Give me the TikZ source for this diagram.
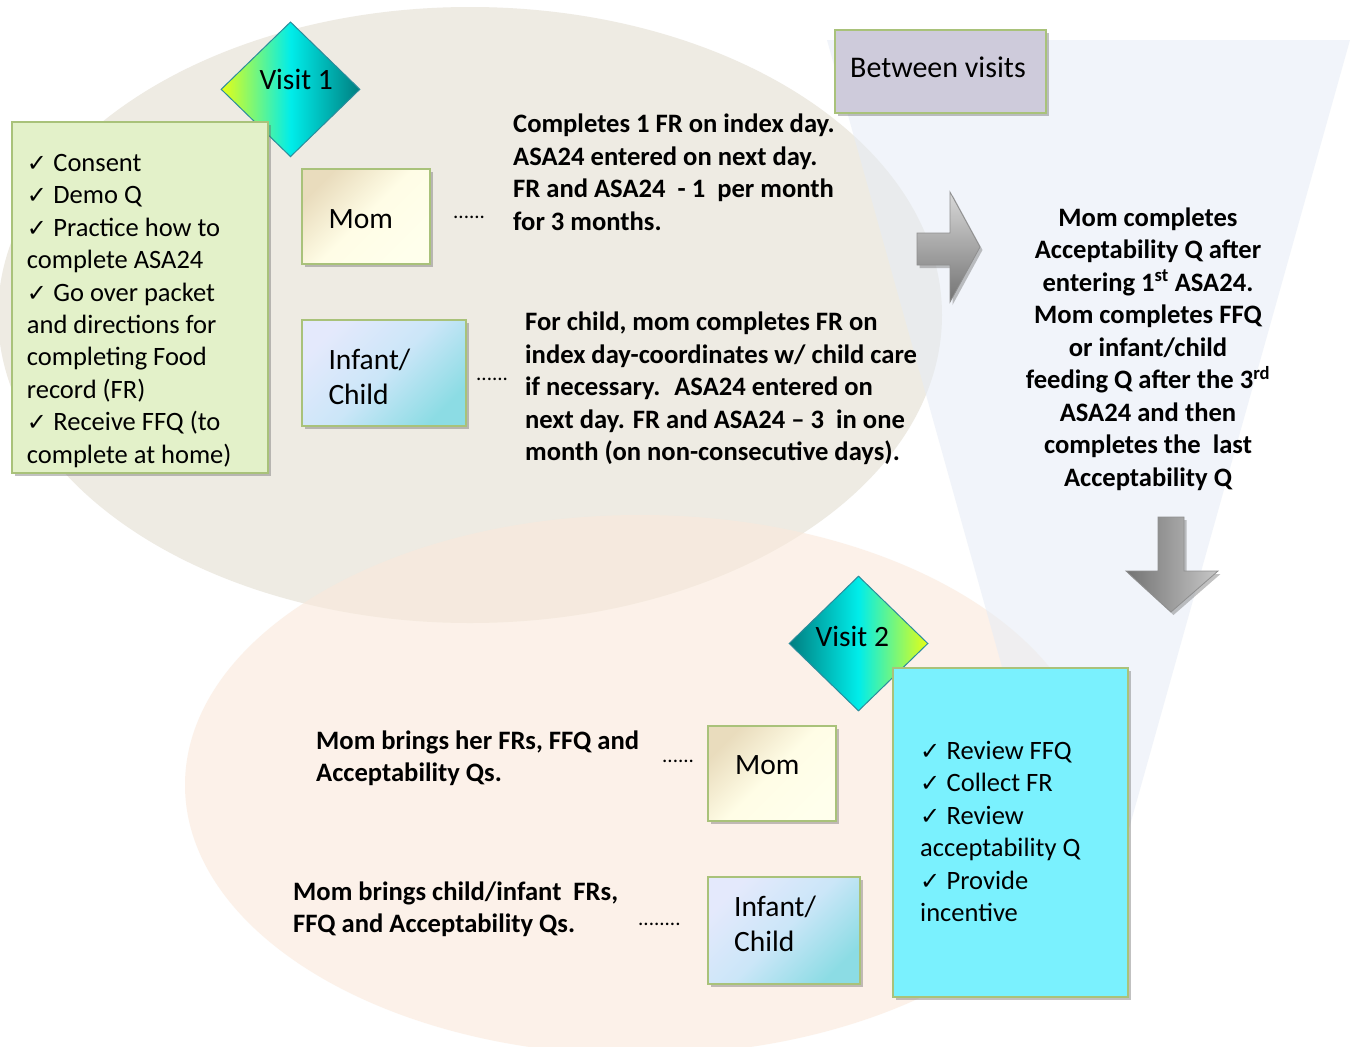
\documentclass[tikz,border=0pt]{standalone}
\usepackage{fontspec}
\setmainfont{Carlito}
\newfontfamily\djv{DejaVu Sans}
\usetikzlibrary{shapes.geometric,shadows}
\definecolor{ellA}{HTML}{EEEBE3}
\definecolor{ellB}{HTML}{FAE9DB}
\definecolor{funnelc}{HTML}{E6ECF6}
\definecolor{boxline}{HTML}{A9C27A}
\definecolor{greenfill}{HTML}{E3F1C9}
\definecolor{cyanfill}{HTML}{7AF1FE}
\definecolor{betweenfill}{HTML}{CECBDB}
\definecolor{momA}{HTML}{E9DCBD}
\definecolor{momB}{HTML}{FFFDE6}
\definecolor{momC}{HTML}{FFFFEC}
\definecolor{kidA}{HTML}{E4E9FC}
\definecolor{kidB}{HTML}{CBE6F8}
\definecolor{kidC}{HTML}{8CDCE4}
\definecolor{yel}{HTML}{E6FF14}
\definecolor{cyn}{HTML}{00EDEA}
\definecolor{tea}{HTML}{007E80}
\definecolor{diaedge}{HTML}{2B8C9C}
\definecolor{arrline}{HTML}{8F8F8F}
\newcommand{\ck}{\makebox[26.5pt][l]{\djv\fontsize{24}{24}\selectfont ✓}}
\begin{document}
\begin{tikzpicture}[x=1pt,y=-1pt,
  shd/.style={drop shadow={shadow xshift=2.5pt,shadow yshift=-3pt,opacity=.4,fill=black!60}},
  bx/.style={draw=boxline,line width=1.4pt,inner sep=0pt,shd},
  mombox/.style={bx,top color=momA,bottom color=momC,middle color=momB,shading angle=45},
  kidbox/.style={bx,top color=kidA,bottom color=kidC,middle color=kidB,shading angle=45},
  dia/.style={diamond,draw=diaedge,line width=1pt,inner sep=0pt,minimum width=139pt,minimum height=135pt},
  txt/.style={inner sep=0pt,anchor=base west,align=left},
  bigf/.style={font=\fontsize{29.5}{35}\selectfont},
  listf/.style={font=\fontsize{26.5}{32.4}\selectfont},
  boldf/.style={font=\bfseries\fontsize{26.6}{32.5}\selectfont},
  dotf/.style={font=\fontsize{21}{21}\selectfont},
  arrowshape/.style={draw=arrline,line width=0.8pt,shd}
]
\useasboundingbox (0,0) rectangle (1350,1047);
\fill[white] (0,0) rectangle (1350,1047);
% background shapes
\fill[ellA] (470,315) ellipse [x radius=472pt,y radius=308pt];
\fill[ellB,opacity=.6] (640,785) ellipse [x radius=455pt,y radius=270pt];
\fill[funnelc,opacity=.55] (827,40) -- (1350,40) -- (1088,975) -- cycle;

% diamonds
\node[dia,left color=yel,right color=tea,middle color=cyn] (v1) at (290.5,89.3) {};
\node[txt,bigf] (v1t) at (259.3,89.3) {Visit 1};
\node[dia,left color=tea,right color=yel,middle color=cyn] (v2) at (858.5,643.5) {};
\node[txt,bigf] (v2t) at (815.5,646.5) {Visit 2};

% visit 1 checklist (base = last line)
\node[bx,fill=greenfill,minimum width=256pt,minimum height=351pt] (g1) at (140,297.5) {};
\node[txt,listf] (g1t) at (26.7,463.1) {\ck Consent\\ \ck Demo Q\\ \ck Practice how to\\ complete ASA24\\ \ck Go over packet\\ and directions for\\ completing Food\\ record (FR)\\ \ck Receive FFQ (to\\ complete at home)};

% visit 1 boxes
\node[mombox,minimum width=128pt,minimum height=95pt] (mom1) at (366,216.5) {};
\node[txt,bigf] (mom1t) at (328.5,228.3) {Mom};
\node[kidbox,minimum width=164pt,minimum height=106pt] (kid1) at (384,373) {};
\node[txt,bigf] (kid1t) at (328.3,404) {Infant/\\ Child};

\node[txt,dotf] (d1) at (453,218) {......};
\node[txt,dotf] (d2) at (476,380) {......};

\node[txt,boldf] (b1) at (513,230) {Completes 1 FR on index day.\\ ASA24 entered on next day.\\ FR and ASA24 \ - 1 \ per month\\ for 3 months.};
\node[txt,boldf] (b2) at (525,460.5) {For child, mom completes FR on\\ index day-coordinates w/ child care\\ if necessary. \ ASA24 entered on\\ next day. FR and ASA24 -- 3 \ in one\\ month (on non-consecutive days).};

% between visits
\node[bx,fill=betweenfill,minimum width=211pt,minimum height=83pt] (bv) at (940.5,71.5) {};
\node[txt,font=\fontsize{30}{36}\selectfont] (bvt) at (850,77) {Between visits};

\shade[arrowshape,top color=black!15,bottom color=black!55] (917,233) -- (950,233) -- (950,192) -- (980,247) -- (950,302) -- (950,265) -- (917,265) -- cycle;

\node[boldf,inner sep=0pt,anchor=base,align=center] (mid) at (1148,486) {Mom completes\\ Acceptability Q after\\ entering 1\textsuperscript{st} ASA24.\\ Mom completes FFQ\\ or infant/child\\ feeding Q after the 3\textsuperscript{rd}\\ ASA24 and then\\ completes the \ last\\ Acceptability Q};

\shade[arrowshape,left color=black!55,right color=black!22] (1158,517) -- (1184,517) -- (1184,571) -- (1218,571) -- (1171,612) -- (1126,571) -- (1158,571) -- cycle;

% visit 2
\node[bx,fill=cyanfill,minimum width=235pt,minimum height=329pt] (c2) at (1010.5,832.5) {};
\node[txt,listf] (c2t) at (920,921.5) {\ck Review FFQ\\ \ck Collect FR\\ \ck Review\\ acceptability Q\\ \ck Provide\\ incentive};

\node[mombox,minimum width=128pt,minimum height=95pt] (mom2) at (772,773.5) {};
\node[txt,bigf] (mom2t) at (735,774.3) {Mom};
\node[kidbox,minimum width=152pt,minimum height=107pt] (kid2) at (784,930.5) {};
\node[txt,bigf] (kid2t) at (734,951) {Infant/\\ Child};

\node[txt,dotf] (d3) at (662,762) {......};
\node[txt,dotf] (d4) at (638,925) {........};

\node[txt,boldf] (b3) at (316,781.5) {Mom brings her FRs, FFQ and\\ Acceptability Qs.};
\node[txt,boldf] (b4) at (293,932.5) {Mom brings child/infant \ FRs,\\ FFQ and Acceptability Qs.};
\end{tikzpicture}
\end{document}
